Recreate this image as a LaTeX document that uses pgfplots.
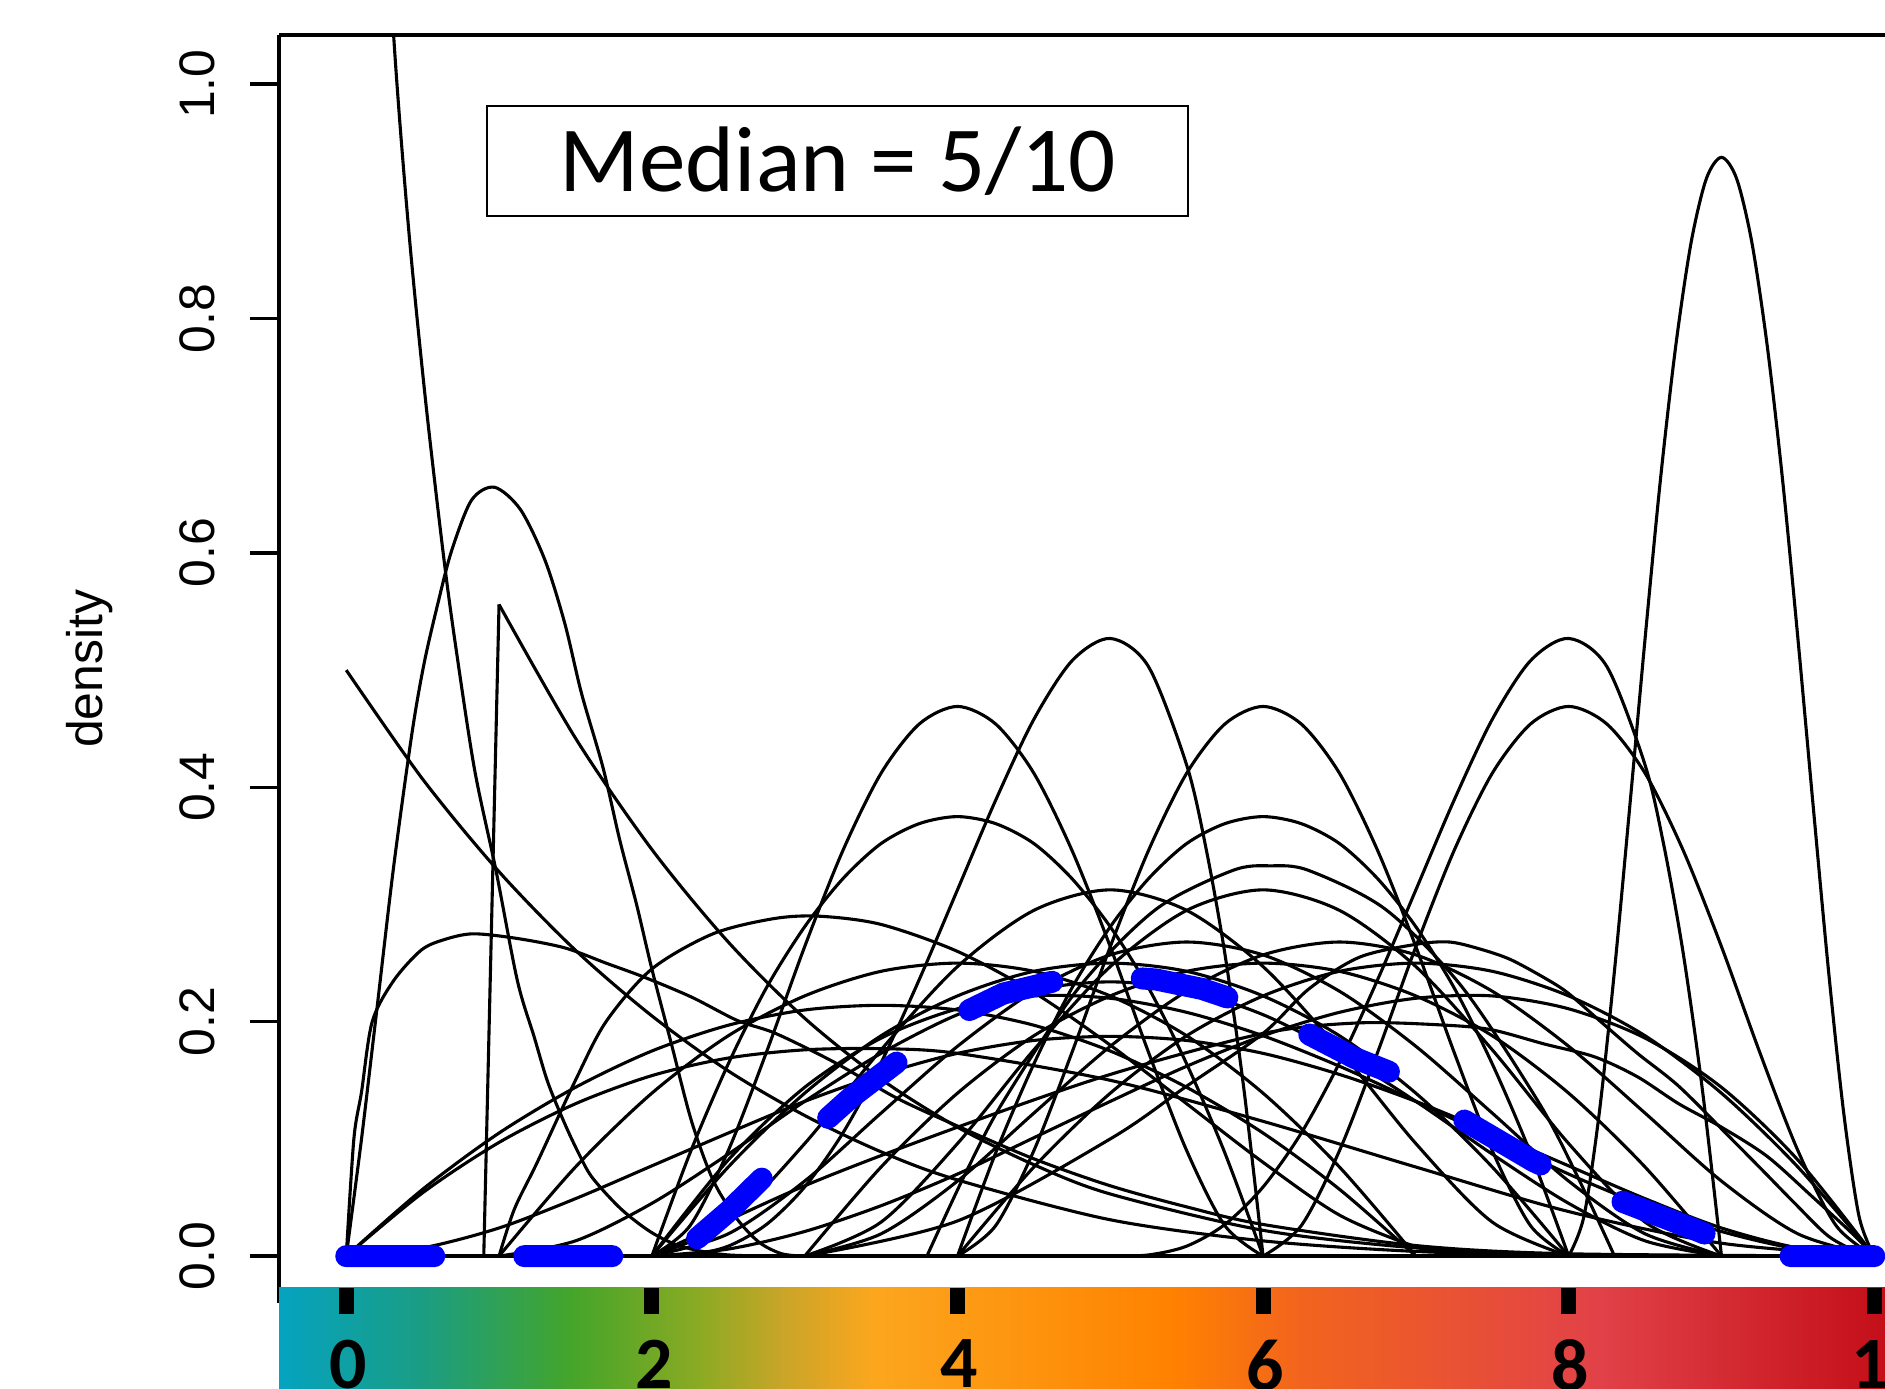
\documentclass[border=0pt]{standalone}
\usepackage{fontspec}
\setmainfont{Liberation Sans}
\newfontfamily\calibri{Carlito}
\usepackage{pgfplots}
\pgfplotsset{compat=1.18}

\definecolor{medblue}{RGB}{0,0,255}
% colour bar stops, left to right
\definecolor{cb0}{RGB}{5,163,192}
\definecolor{cb1}{RGB}{26,157,132}
\definecolor{cb2}{RGB}{68,165,42}
\definecolor{cb3}{RGB}{140,170,35}
\definecolor{cb4}{RGB}{200,165,40}
\definecolor{cb5}{RGB}{252,166,30}
\definecolor{cb6}{RGB}{255,130,0}
\definecolor{cb7}{RGB}{242,100,30}
\definecolor{cb8}{RGB}{225,65,72}
\definecolor{cb9}{RGB}{195,14,24}

\tikzset{
  dens/.style={black, line width=0.31mm, smooth},
  sharp/.style={black, line width=0.31mm},
  med/.style={medblue, line width=2.2mm, line cap=round, dash pattern=on 8.8mm off 9mm},
}

\begin{document}
\begin{tikzpicture}
\useasboundingbox (0,0) rectangle (18.85,13.89);
\clip (0,0) rectangle (18.85,13.89);

\begin{axis}[
  at={(2.79cm,0.86cm)}, anchor=south west,
  scale only axis, width=16.564cm, height=12.681cm,
  xmin=-0.44, xmax=10.4, ymin=-0.04, ymax=1.042,
  axis x line*=top, axis y line*=left,
  xtick=\empty,
  ytick={0,0.2,0.4,0.6,0.8,1.0},
  yticklabels={0.0,0.2,0.4,0.6,0.8,1.0},
  tick align=outside, major tick length=2.9mm,
  every tick/.style={black, line width=0.35mm},
  axis line style={line width=0.35mm},
  yticklabel style={rotate=90, anchor=south, inner sep=0pt, font=\fontsize{14.2}{17}\selectfont},
  yticklabel shift=3.4mm,
  ylabel={density},
  ylabel style={font=\fontsize{14.2}{17}\selectfont, at={(axis description cs:-0.1141,0.5)}, anchor=center},
]
% baseline shared by all densities
\addplot[black, line width=0.45mm] coordinates {(0,0) (10,0)};

% steep ones near zero
\addplot[dens] coordinates {(0,1.7) (0.1,1.5) (0.2,1.3) (0.31,1.042) (0.41,0.874) (0.52,0.729) (0.64,0.594) (0.72,0.517) (0.84,0.415) (0.98,0.329) (1.12,0.235) (1.23,0.187) (1.32,0.148) (1.43,0.113) (1.52,0.088) (1.61,0.067) (1.8,0.04) (2.0,0.02) (2.2,0.008) (2.5,0.001) (3,0)};
\addplot[dens] coordinates {(0,0) (0.1,0.1) (0.2,0.21) (0.31,0.332) (0.43,0.446) (0.51,0.506) (0.6,0.557) (0.69,0.602) (0.82,0.645) (0.97,0.656) (1.14,0.637) (1.3,0.594) (1.43,0.54) (1.54,0.48) (1.68,0.417) (1.79,0.355) (1.9,0.3) (2.0,0.245) (2.13,0.18) (2.26,0.115) (2.4,0.065) (2.55,0.033) (2.7,0.012) (2.85,0.002) (3,0)};
\addplot[dens] coordinates {(0,0.5) (0.5,0.407) (1,0.328) (1.5,0.261) (2,0.205) (2.5,0.158) (3,0.120) (3.5,0.089) (4,0.065) (5,0.031) (6,0.013) (7,0.004) (8,0.001) (10,0)};
\addplot[dens] coordinates {(0,0) (0.05,0.1) (0.1,0.14) (0.17,0.2) (0.31,0.235) (0.49,0.261) (0.64,0.27) (0.83,0.275) (1.12,0.271) (1.43,0.263) (1.7,0.25) (1.95,0.238) (2.26,0.221) (2.56,0.201) (2.81,0.19) (3.2,0.165) (3.6,0.135) (4,0.111) (4.5,0.083) (5,0.06) (5.5,0.042) (6,0.027) (7,0.009) (8,0.002) (10,0)};
\addplot[sharp] coordinates {(0.9,0) (1.0,0.556)};
\addplot[dens] coordinates {(1.0,0.556) (1.5,0.442) (2,0.347) (2.5,0.268) (3,0.203) (3.5,0.151) (4,0.110) (4.5,0.078) (5,0.053) (6,0.022) (7,0.007) (8,0.001) (10,0)};

% tall narrow one at 9
\addplot[dens] coordinates {(8,0) (8.1,0.034) (8.2,0.122) (8.3,0.244) (8.4,0.384) (8.5,0.527) (8.6,0.662) (8.7,0.776) (8.8,0.864) (8.9,0.919) (9,0.9375) (9.1,0.919) (9.2,0.864) (9.3,0.776) (9.4,0.662) (9.5,0.527) (9.6,0.384) (9.7,0.244) (9.8,0.122) (9.9,0.034) (10,0)};

% skewed peaks at 5 and 8
\addplot[dens] coordinates {(2,0) (2.25,0.001) (2.5,0.0085) (2.75,0.027) (3,0.059) (3.25,0.105) (3.5,0.165) (3.75,0.236) (4,0.3125) (4.25,0.389) (4.5,0.458) (4.75,0.508) (5,0.527) (5.25,0.503) (5.5,0.419) (5.625,0.349) (5.75,0.258) (5.875,0.142) (6,0)};
\addplot[dens] coordinates {(5,0) (5.25,0.001) (5.5,0.0085) (5.75,0.027) (6,0.059) (6.25,0.105) (6.5,0.165) (6.75,0.236) (7,0.3125) (7.25,0.389) (7.5,0.458) (7.75,0.508) (8,0.527) (8.25,0.503) (8.5,0.419) (8.625,0.349) (8.75,0.258) (8.875,0.142) (9,0)};

% symmetric peaks at 4, 6, 8
\addplot[dens] coordinates {(2,0) (2.25,0.026) (2.5,0.090) (2.75,0.174) (3,0.264) (3.25,0.346) (3.5,0.412) (3.75,0.454) (4,0.469) (4.25,0.454) (4.5,0.412) (4.75,0.346) (5,0.264) (5.25,0.174) (5.5,0.090) (5.75,0.026) (6,0)};
\addplot[dens] coordinates {(4,0) (4.25,0.026) (4.5,0.090) (4.75,0.174) (5,0.264) (5.25,0.346) (5.5,0.412) (5.75,0.454) (6,0.469) (6.25,0.454) (6.5,0.412) (6.75,0.346) (7,0.264) (7.25,0.174) (7.5,0.090) (7.75,0.026) (8,0)};
\addplot[dens] coordinates {(6,0) (6.25,0.026) (6.5,0.090) (6.75,0.174) (7,0.264) (7.25,0.346) (7.5,0.412) (7.75,0.454) (8,0.469) (8.25,0.454) (8.5,0.412) (8.75,0.346) (9,0.264) (9.25,0.174) (9.5,0.090) (9.75,0.026) (10,0)};
\addplot[dens] coordinates {(2,0) (2.25,0.088) (2.5,0.164) (2.75,0.229) (3,0.281) (3.25,0.322) (3.5,0.352) (3.75,0.369) (4,0.375) (4.25,0.369) (4.5,0.352) (4.75,0.322) (5,0.281) (5.25,0.229) (5.5,0.164) (5.75,0.088) (6,0)};
\addplot[dens] coordinates {(4,0) (4.25,0.088) (4.5,0.164) (4.75,0.229) (5,0.281) (5.25,0.322) (5.5,0.352) (5.75,0.369) (6,0.375) (6.25,0.369) (6.5,0.352) (6.75,0.322) (7,0.281) (7.25,0.229) (7.5,0.164) (7.75,0.088) (8,0)};

% middle band
\addplot[dens] coordinates {(3.8,0) (4.05,0.07) (4.3,0.132) (4.8,0.230) (5.3,0.296) (5.8,0.329) (6.05,0.333) (6.3,0.329) (6.8,0.296) (7.3,0.230) (7.8,0.132) (8.05,0.07) (8.3,0)};
\addplot[dens] coordinates {(3,0) (3.5,0.029) (4,0.096) (4.5,0.176) (5,0.247) (5.5,0.295) (6,0.3125) (6.5,0.295) (7,0.247) (7.5,0.176) (8,0.096) (8.5,0.029) (9,0)};
\addplot[dens] coordinates {(2,0) (2.5,0.029) (3,0.096) (3.5,0.176) (4,0.247) (4.5,0.295) (5,0.3125) (5.5,0.295) (6,0.247) (6.5,0.176) (7,0.096) (7.5,0.029) (8,0)};
\addplot[dens] coordinates {(1.0,0) (1.1,0.04) (1.25,0.08) (1.5,0.15) (1.7,0.2) (2.0,0.245) (2.4,0.275) (2.8,0.288) (3.1,0.29) (3.5,0.283) (4,0.26) (4.5,0.225) (5,0.18) (5.5,0.13) (6,0.08) (6.5,0.035) (7,0.008) (7.3,0)};
\addplot[dens] coordinates {(0,0) (0.5,0.054) (1,0.097) (1.5,0.130) (2,0.154) (2.5,0.169) (3,0.176) (3.5,0.177) (4,0.173) (5,0.15) (6,0.115) (7,0.076) (8,0.038) (9,0.011) (10,0)};
\addplot[dens] coordinates {(3,0) (4,0.03) (5,0.10) (5.5,0.145) (6,0.19) (6.3,0.228) (6.63,0.255) (7.0,0.266) (7.22,0.268) (7.42,0.262) (7.62,0.253) (7.86,0.236) (8.0,0.224) (8.21,0.2) (8.45,0.173) (8.72,0.145) (9.05,0.102) (9.27,0.073) (9.48,0.045) (9.7,0.017) (9.9,0.003) (10,0)};
\addplot[dens] coordinates {(2,0) (3,0.06) (4,0.11) (5,0.155) (6,0.19) (6.63,0.199) (7.2,0.197) (7.5,0.193) (7.84,0.181) (8.17,0.17) (8.45,0.153) (8.72,0.13) (9.0,0.11) (9.3,0.085) (9.6,0.05) (9.85,0.02) (10,0)};
\addplot[dens] coordinates {(3,0) (3.5,0.076) (4,0.139) (4.5,0.188) (5,0.222) (5.5,0.243) (6,0.25) (6.5,0.243) (7,0.222) (7.5,0.188) (8,0.139) (8.5,0.076) (9,0)};
\addplot[dens] coordinates {(1,0) (1.5,0.076) (2,0.139) (2.5,0.188) (3,0.222) (3.5,0.243) (4,0.25) (4.5,0.243) (5,0.222) (5.5,0.188) (6,0.139) (6.5,0.076) (7,0)};
\addplot[dens] coordinates {(1,0) (1.5,0.013) (2,0.045) (2.5,0.087) (3,0.132) (3.5,0.173) (4,0.206) (4.5,0.227) (5,0.234) (5.5,0.227) (6,0.206) (6.5,0.173) (7,0.132) (7.5,0.087) (8,0.045) (8.5,0.013) (9,0)};
\addplot[dens] coordinates {(2,0) (2.5,0.082) (3,0.144) (3.5,0.186) (4,0.211) (4.5,0.222) (5,0.220) (5.5,0.208) (6,0.188) (6.5,0.162) (7,0.132) (7.5,0.101) (8,0.070) (8.5,0.043) (9,0.021) (9.5,0.006) (10,0)};
\addplot[dens] coordinates {(2,0) (2.5,0.006) (3,0.021) (3.5,0.043) (4,0.070) (4.5,0.101) (5,0.132) (5.5,0.162) (6,0.188) (6.5,0.208) (7,0.220) (7.5,0.222) (8,0.211) (8.5,0.186) (9,0.144) (9.5,0.082) (10,0)};
\addplot[dens] coordinates {(4,0) (4.5,0.076) (5,0.139) (5.5,0.188) (6,0.222) (6.5,0.243) (7,0.25) (7.5,0.243) (8,0.222) (8.5,0.188) (9,0.139) (9.5,0.076) (10,0)};
\addplot[dens] coordinates {(0,0) (0.5,0.057) (1,0.105) (1.5,0.144) (2,0.175) (2.5,0.197) (3,0.210) (3.5,0.214) (4,0.210) (4.5,0.197) (5,0.175) (5.5,0.144) (6,0.105) (6.5,0.057) (7,0)};
\addplot[dens] coordinates {(0,0) (0.5,0.007) (1,0.024) (1.5,0.049) (2,0.077) (2.5,0.105) (3,0.132) (3.5,0.155) (4,0.173) (4.5,0.184) (5,0.1875) (5.5,0.184) (6,0.173) (6.5,0.155) (7,0.132) (7.5,0.105) (8,0.077) (8.5,0.049) (9,0.024) (9.5,0.007) (10,0)};
\addplot[dens] coordinates {(3,0) (3.5,0.019) (4,0.064) (4.5,0.122) (5,0.179) (5.5,0.226) (6,0.257) (6.5,0.268) (7,0.257) (7.5,0.226) (8,0.179) (8.5,0.122) (9,0.064) (9.5,0.019) (10,0)};
\addplot[dens] coordinates {(2,0) (2.5,0.019) (3,0.064) (3.5,0.122) (4,0.179) (4.5,0.226) (5,0.257) (5.5,0.268) (6,0.257) (6.5,0.226) (7,0.179) (7.5,0.122) (8,0.064) (8.5,0.019) (9,0)};
\addplot[dens] coordinates {(2,0) (2.5,0.076) (3,0.139) (3.5,0.188) (4,0.222) (4.5,0.243) (5,0.25) (5.5,0.243) (6,0.222) (6.5,0.188) (7,0.139) (7.5,0.076) (8,0)};

% median of the densities
\addplot[med] coordinates {(0,0) (2.1,0) (2.25,0.01) (2.5,0.038) (2.75,0.07) (3.0,0.1) (3.3,0.135) (3.65,0.17) (4.0,0.205) (4.3,0.224) (4.65,0.235) (5.0,0.239) (5.3,0.236) (5.6,0.228) (5.85,0.217) (6.2,0.196) (6.6,0.169) (6.85,0.156) (7.3,0.117) (7.77,0.081) (8.3,0.049) (8.8,0.024) (9.1,0.008) (9.3,0) (10,0)};

\node[draw, line width=0.2mm, fill=white, minimum width=70.1mm, minimum height=11mm, inner sep=0pt,
  font=\calibri\fontsize{26.5}{30}\selectfont] at (axis cs:3.217,0.934) {Median = 5/10};
\end{axis}

% colour bar under the plot
\shade[left color=cb0, right color=cb1] (2.79,0) rectangle (4.21,1.01);
\shade[left color=cb1, right color=cb2] (4.20,0) rectangle (5.72,1.01);
\shade[left color=cb2, right color=cb3] (5.71,0) rectangle (7.01,1.01);
\shade[left color=cb3, right color=cb4] (7.00,0) rectangle (7.81,1.01);
\shade[left color=cb4, right color=cb5] (7.80,0) rectangle (8.74,1.01);
\shade[left color=cb5, right color=cb6] (8.73,0) rectangle (11.71,1.01);
\shade[left color=cb6, right color=cb7] (11.70,0) rectangle (13.01,1.01);
\shade[left color=cb7, right color=cb8] (13.00,0) rectangle (16.01,1.01);
\shade[left color=cb8, right color=cb9] (16.00,0) rectangle (18.90,1.01);

\begin{axis}[
  at={(2.79cm,1.01cm)}, anchor=south west,
  scale only axis, width=16.564cm, height=1cm,
  xmin=-0.44, xmax=10.4, ymin=0, ymax=1,
  axis x line*=bottom, hide y axis,
  axis line style={draw=none},
  xtick={0,2,4,6,8,10}, xticklabels={0,2,4,6,8,\hspace*{2.5mm}10},
  tick align=outside, major tick length=2.6mm,
  every tick/.style={black, line width=1.5mm},
  xticklabel style={anchor=north, inner sep=0pt, xshift=0.2mm, font=\calibri\bfseries\fontsize{21}{25}\selectfont},
  xticklabel shift=2.5mm,
]
\addplot[draw=none] coordinates {(0,0.5)};
\end{axis}
\end{tikzpicture}
\end{document}
